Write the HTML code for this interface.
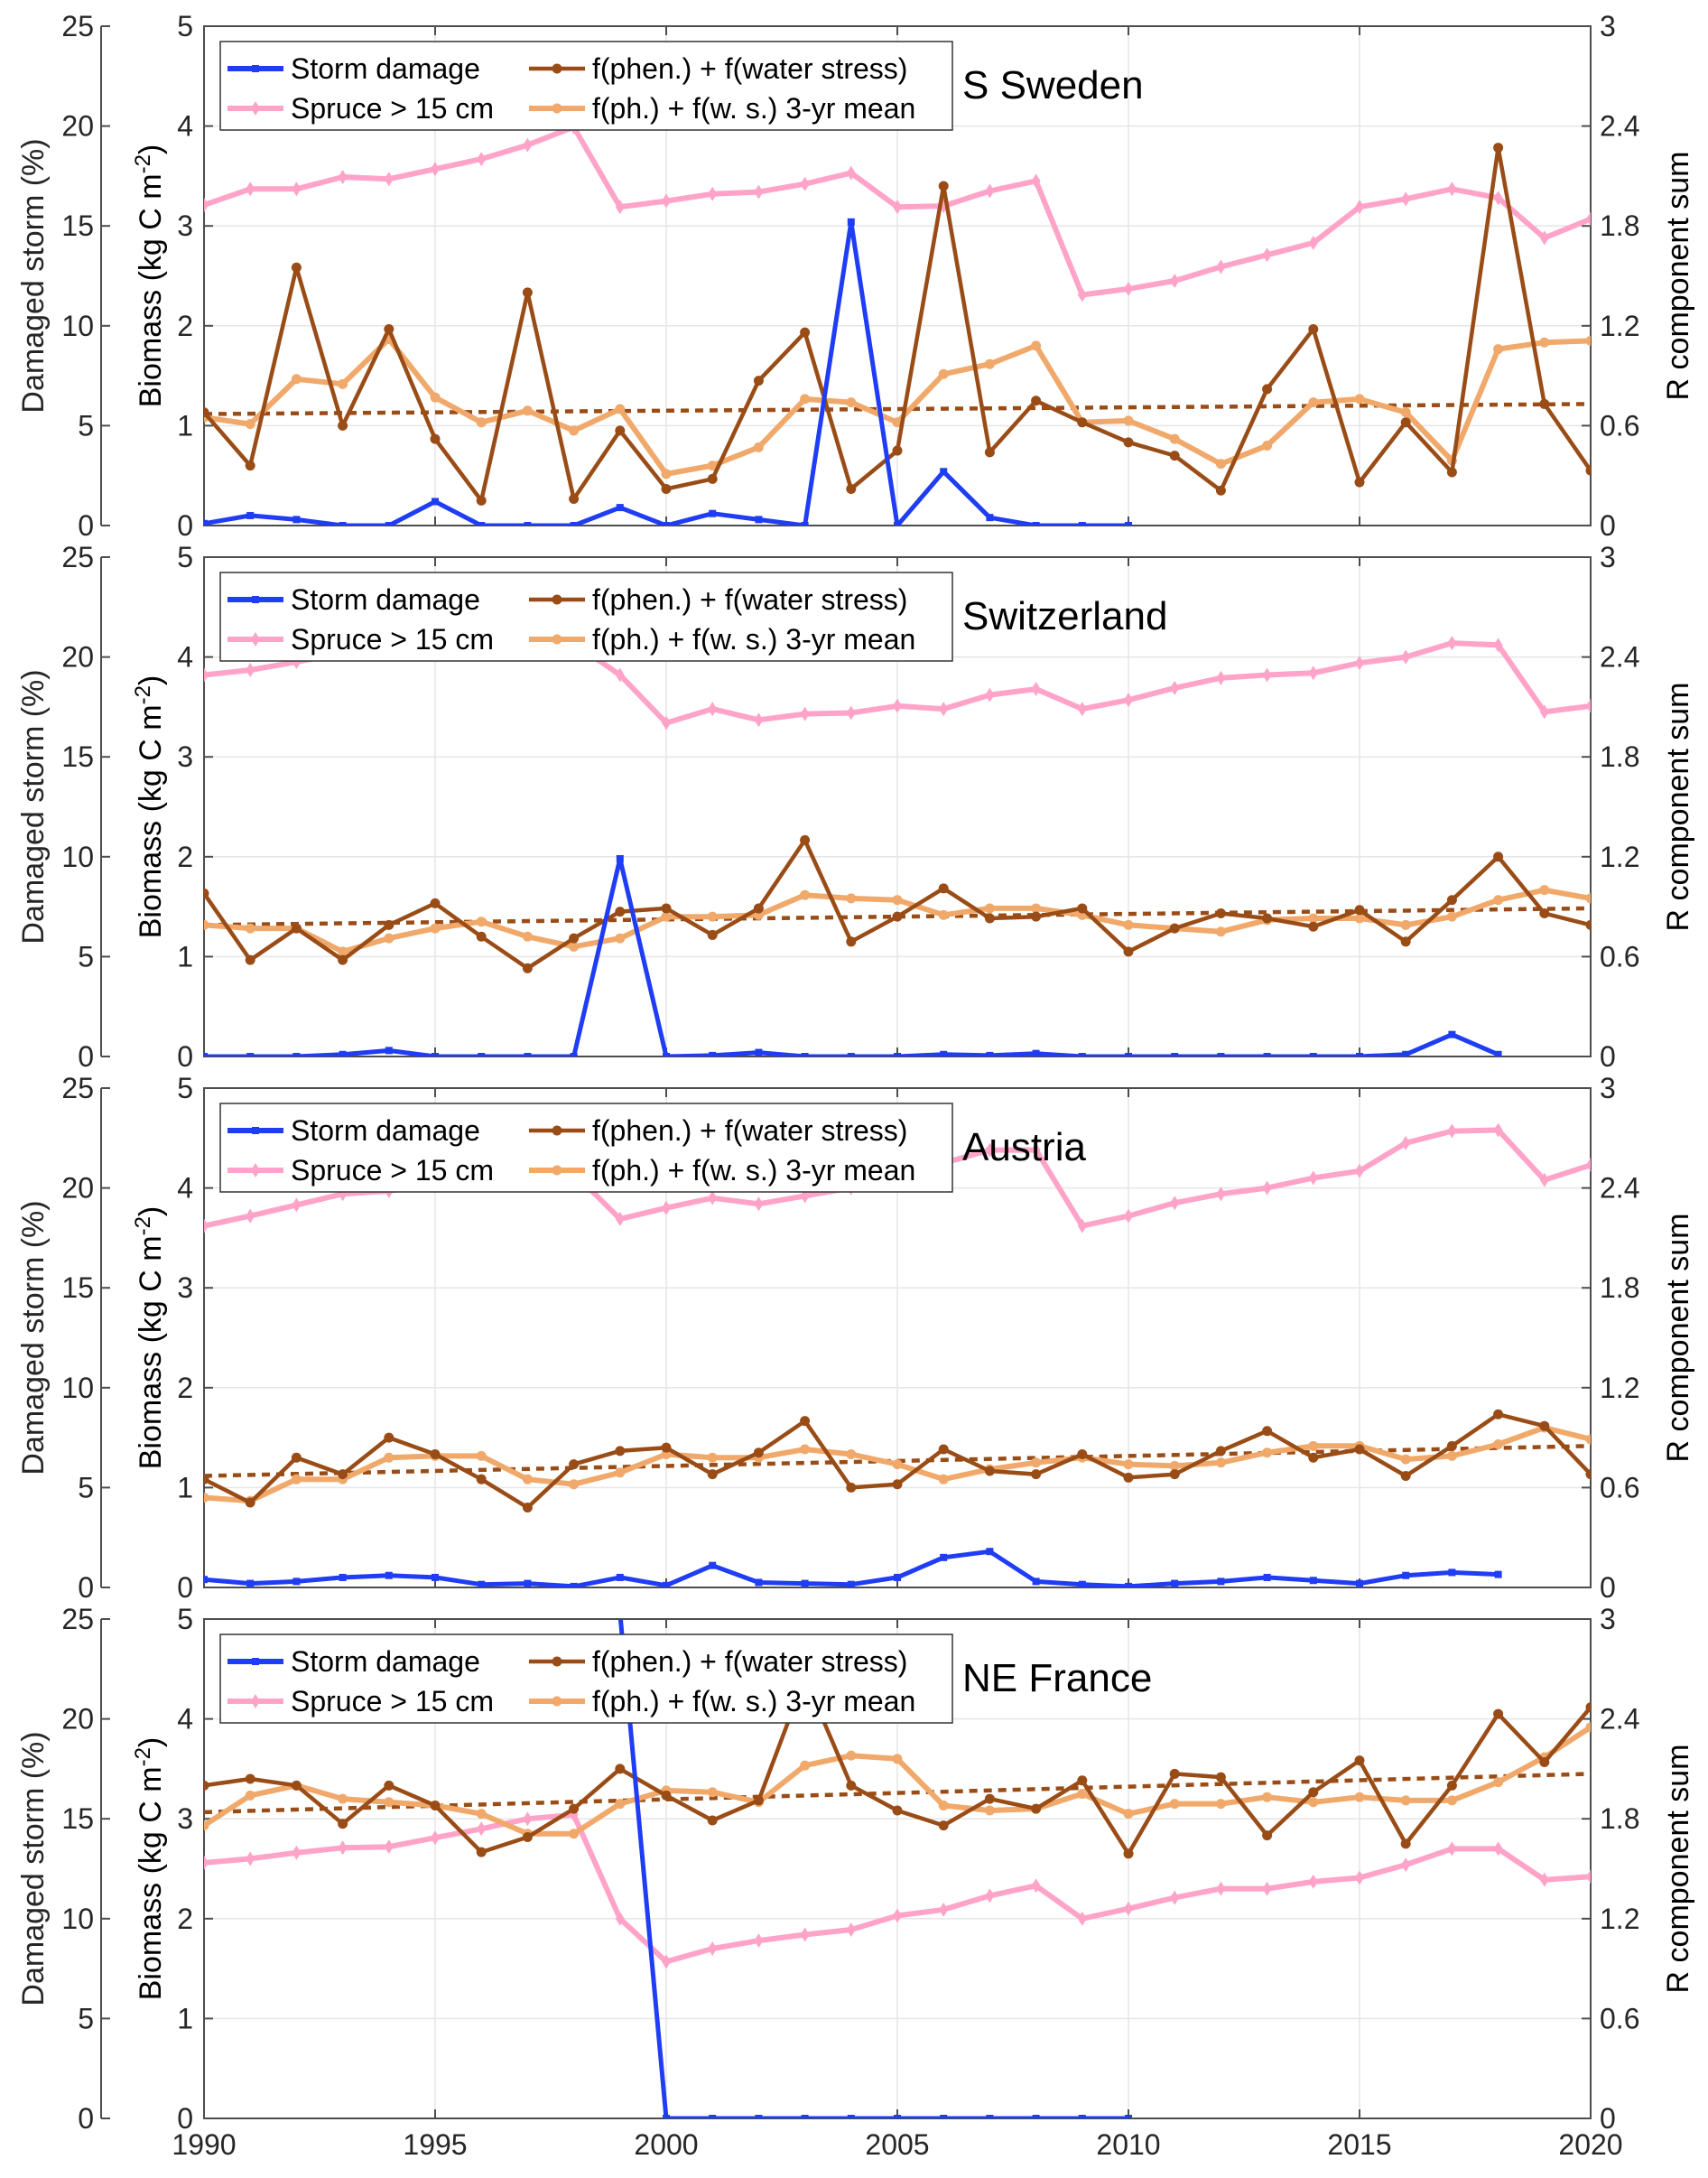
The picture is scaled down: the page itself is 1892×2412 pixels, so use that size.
<!DOCTYPE html>
<html><head><meta charset="utf-8"><style>
html,body{margin:0;padding:0;background:#fff;}
svg{display:block;font-family:"Liberation Sans",Arial,sans-serif;}
</style></head><body>
<svg id="chart" width="1892" height="2412" viewBox="0 0 1892 2412" xmlns="http://www.w3.org/2000/svg"></svg>
<script>
const years = [1990,1991,1992,1993,1994,1995,1996,1997,1998,1999,2000,2001,2002,2003,2004,2005,2006,2007,2008,2009,2010,2011,2012,2013,2014,2015,2016,2017,2018,2019,2020];
const panelTitles = ["S Sweden","Switzerland","Austria","NE France"];
const xTickLabels = [1990,1995,2000,2005,2010,2015,2020];
const stormTicks = [0,5,10,15,20,25];
const biomassTicks = [0,1,2,3,4,5];
const rTickLabels = ["0","0.6","1.2","1.8","2.4","3"];
const rTickValues = [0,0.6,1.2,1.8,2.4,3];

const storm1 = [0.1,0.5,0.3,0,0,1.2,0,0,0,0.9,0,0.6,0.3,0,15.2,0,2.7,0.4,0,0,0];
const spruce1 = [3.21,3.37,3.37,3.49,3.47,3.57,3.67,3.81,3.99,3.19,3.25,3.32,3.34,3.42,3.53,3.19,3.2,3.35,3.45,2.31,2.37,2.45,2.59,2.71,2.83,3.19,3.27,3.37,3.28,2.88,3.07];
const rsum1 = [0.68,0.36,1.55,0.6,1.18,0.52,0.15,1.4,0.16,0.57,0.22,0.28,0.87,1.16,0.22,0.45,2.04,0.44,0.75,0.62,0.5,0.42,0.21,0.82,1.18,0.26,0.62,0.32,2.27,0.73,0.33];
const rmean1 = [0.65,0.61,0.88,0.85,1.12,0.77,0.62,0.69,0.57,0.7,0.31,0.36,0.47,0.76,0.74,0.62,0.91,0.97,1.08,0.62,0.63,0.52,0.37,0.48,0.74,0.76,0.68,0.39,1.06,1.1,1.11];
const trend1 = [0.67,0.73];

const storm2 = [0,0,0,0.1,0.3,0,0,0,0,9.9,0,0.05,0.2,0,0,0,0.1,0.05,0.15,0,0,0,0,0,0,0,0.1,1.1,0.1];
const spruce2 = [3.82,3.87,3.95,4.04,4.1,4.15,4.2,4.25,4.14,3.82,3.34,3.48,3.37,3.43,3.44,3.51,3.48,3.62,3.68,3.48,3.57,3.69,3.79,3.82,3.84,3.94,4.0,4.14,4.12,3.45,3.51];
const rsum2 = [0.98,0.58,0.77,0.58,0.79,0.92,0.72,0.53,0.71,0.87,0.89,0.73,0.89,1.3,0.69,0.84,1.01,0.83,0.84,0.89,0.63,0.77,0.86,0.83,0.78,0.88,0.69,0.94,1.2,0.86,0.79];
const rmean2 = [0.79,0.77,0.77,0.63,0.71,0.77,0.81,0.72,0.66,0.71,0.84,0.84,0.85,0.97,0.95,0.94,0.85,0.89,0.89,0.85,0.79,0.77,0.75,0.82,0.83,0.83,0.79,0.84,0.94,1.0,0.95];
const trend2 = [0.79,0.89];

const storm3 = [0.4,0.2,0.3,0.5,0.6,0.5,0.15,0.2,0.05,0.5,0.1,1.1,0.25,0.2,0.15,0.5,1.5,1.8,0.3,0.15,0.05,0.2,0.3,0.5,0.35,0.2,0.6,0.75,0.65];
const spruce3 = [3.62,3.72,3.83,3.94,3.97,4.03,4.1,4.2,4.15,3.69,3.8,3.9,3.84,3.92,4.0,4.1,4.25,4.38,4.38,3.62,3.72,3.85,3.94,4.0,4.1,4.17,4.45,4.57,4.58,4.08,4.23];
const rsum3 = [0.65,0.51,0.78,0.68,0.9,0.8,0.65,0.48,0.74,0.82,0.84,0.68,0.81,1.0,0.6,0.62,0.83,0.7,0.68,0.8,0.66,0.68,0.82,0.94,0.78,0.83,0.67,0.85,1.04,0.97,0.68];
const rmean3 = [0.54,0.52,0.65,0.65,0.78,0.79,0.79,0.65,0.62,0.69,0.8,0.78,0.78,0.83,0.8,0.74,0.65,0.71,0.75,0.78,0.74,0.73,0.75,0.81,0.85,0.85,0.77,0.79,0.86,0.96,0.89];
const trend3 = [0.67,0.85];

const storm4 = [null,null,null,null,null,null,null,null,null,25.3,0,0,0,0,0,0,0,0,0,0,0];
const spruce4 = [2.56,2.6,2.66,2.71,2.72,2.81,2.9,3.0,3.04,2.0,1.57,1.7,1.78,1.84,1.89,2.03,2.09,2.23,2.33,2.0,2.1,2.21,2.3,2.3,2.37,2.41,2.54,2.7,2.7,2.39,2.42];
const rsum4 = [2.0,2.04,2.0,1.77,2.0,1.88,1.6,1.69,1.86,2.1,1.94,1.79,1.91,2.65,2.0,1.85,1.76,1.92,1.86,2.03,1.59,2.07,2.05,1.7,1.96,2.15,1.65,2.0,2.43,2.14,2.47];
const rmean4 = [1.76,1.94,2.0,1.92,1.9,1.88,1.83,1.71,1.71,1.89,1.97,1.96,1.9,2.12,2.18,2.16,1.88,1.85,1.86,1.95,1.83,1.89,1.89,1.93,1.9,1.93,1.91,1.91,2.02,2.17,2.35];
const trend4 = [1.84,2.07];

const stormSets=[storm1,storm2,storm3,storm4];
const spruceSets=[spruce1,spruce2,spruce3,spruce4];
const rsumSets=[rsum1,rsum2,rsum3,rsum4];
const rmeanSets=[rmean1,rmean2,rmean3,rmean4];
const trendSets=[trend1,trend2,trend3,trend4];

const NS="http://www.w3.org/2000/svg";
const svg=document.getElementById('chart');
const X0=226,X1=1762,PH=553;
const tops=[29,617,1205,1793];
const C={blue:"#1f3df5",brown:"#9a4c16",orange:"#f0a96a",pink:"#ffa3c9"};
function xs(y){return X0+(y-1990)/30*(X1-X0);}
function mk(tag,attrs,parent){const e=document.createElementNS(NS,tag);for(const k in attrs)e.setAttribute(k,attrs[k]);(parent||svg).appendChild(e);return e;}
function txt(s,attrs,parent){const e=mk('text',attrs,parent);e.textContent=s;return e;}

const defs=mk('defs',{});
tops.forEach((t,i)=>{const cp=mk('clipPath',{id:'clip'+i},defs);mk('rect',{x:X0,y:t,width:X1-X0,height:PH},cp);});

function polyline(vals,xf,yf,color,w,parent){
  let segs=[],cur=[];
  vals.forEach((v,i)=>{if(v===null){if(cur.length)segs.push(cur);cur=[];}else cur.push(xf(i).toFixed(1)+','+yf(v).toFixed(1));});
  if(cur.length)segs.push(cur);
  return segs.map(s=>mk('polyline',{points:s.join(' '),fill:'none',stroke:color,'stroke-width':w,'stroke-linejoin':'round'},parent));
}

tops.forEach((top,p)=>{
  const bot=top+PH;
  const g=mk('g',{});
  
  
  const yB=v=>bot-v/5*PH, yS=v=>bot-v/25*PH, yR=v=>bot-v/3*PH;
  xTickLabels.forEach(yr=>{const l=mk('line',{x1:xs(yr),x2:xs(yr),y1:top,y2:bot,stroke:'#e6e6e6','stroke-width':1.5},g);});
  biomassTicks.forEach(v=>{const l=mk('line',{x1:X0,x2:X1,y1:yB(v),y2:yB(v),stroke:'#e6e6e6','stroke-width':1.5},g);});
  const box=mk('rect',{x:X0,y:top,width:X1-X0,height:PH,fill:'none',stroke:'#4d4d4d','stroke-width':2},g);
  
  xTickLabels.forEach(yr=>{mk('line',{x1:xs(yr),x2:xs(yr),y1:bot,y2:bot-10,stroke:'#4d4d4d','stroke-width':2},g);mk('line',{x1:xs(yr),x2:xs(yr),y1:top,y2:top+10,stroke:'#4d4d4d','stroke-width':2},g);});
  const sa=mk('line',{x1:112,x2:112,y1:top,y2:bot,stroke:'#4d4d4d','stroke-width':2},g);
  
  stormTicks.forEach(v=>{mk('line',{x1:112,x2:122,y1:yS(v),y2:yS(v),stroke:'#4d4d4d','stroke-width':2},g);
    const t=txt(String(v),{x:104,y:yS(v)+11,'text-anchor':'end','font-size':32,fill:'#262626'},g);});
  biomassTicks.forEach(v=>{mk('line',{x1:X0,x2:X0+10,y1:yB(v),y2:yB(v),stroke:'#4d4d4d','stroke-width':2},g);
    const t=txt(String(v),{x:214,y:yB(v)+11,'text-anchor':'end','font-size':32,fill:'#262626'},g);});
  rTickValues.forEach((v,i)=>{mk('line',{x1:X1,x2:X1-10,y1:yR(v),y2:yR(v),stroke:'#4d4d4d','stroke-width':2},g);
    const t=txt(rTickLabels[i],{x:X1+10,y:yR(v)+11,'font-size':32,fill:'#262626'},g);});
  const mid=top+PH/2;
  let t=txt('Damaged storm (%)',{x:0,y:0,'text-anchor':'middle','font-size':34,fill:'#262626',transform:`translate(48,${mid}) rotate(-90)`},g);
  
  const bt=mk('text',{x:0,y:0,'text-anchor':'middle','font-size':34,fill:'#000',transform:`translate(178,${mid}) rotate(-90)`},g);
  
  bt.appendChild(document.createTextNode('Biomass (kg C m'));
  const sup=mk('tspan',{dy:-12,'font-size':24},bt);sup.textContent='-2';
  const cl=mk('tspan',{dy:12},bt);cl.textContent=')';
  t=txt('R component sum',{x:0,y:0,'text-anchor':'middle','font-size':34,fill:'#000',transform:`translate(1870,${mid}) rotate(-90)`},g);
  
  if(p===3){xTickLabels.forEach(yr=>{const l=txt(String(yr),{x:xs(yr),y:bot+40,'text-anchor':'middle','font-size':32,fill:'#262626'},g);});}

  const dg=mk('g',{'clip-path':`url(#clip${p})`},g);
  
  const xi=i=>xs(years[i]);
  const sp=spruceSets[p];
  polyline(sp,xi,yB,C.pink,6,dg).forEach(e=>{});
  sp.forEach((v,i)=>{const d=mk('path',{d:`M${xi(i)},${yB(v)-8}l5,8l-5,8l-5,-8z`,fill:C.pink},dg);});
  const tr=trendSets[p];
  const tl=mk('line',{x1:X0,x2:X1,y1:yR(tr[0]),y2:yR(tr[1]),stroke:C.brown,'stroke-width':4.5,'stroke-dasharray':'9 7'},dg);
  
  const rm=rmeanSets[p];
  polyline(rm,xi,yR,C.orange,6,dg).forEach(e=>{});
  rm.forEach((v,i)=>{const c=mk('circle',{cx:xi(i),cy:yR(v),r:5.5,fill:C.orange},dg);});
  const rs=rsumSets[p];
  polyline(rs,xi,yR,C.brown,4.5,dg).forEach(e=>{});
  rs.forEach((v,i)=>{const c=mk('circle',{cx:xi(i),cy:yR(v),r:5.5,fill:C.brown},dg);});
  const st=stormSets[p];
  polyline(st,xi,yS,C.blue,5,dg).forEach(e=>{});
  st.forEach((v,i)=>{if(v===null)return;const r=mk('rect',{x:xi(i)-4,y:yS(v)-4,width:8,height:8,fill:C.blue},dg);});

  const lg=mk('g',{},g);
  mk('rect',{x:244,y:top+17,width:811,height:98,fill:'#fff',stroke:'#333','stroke-width':1.5},lg);
  const r1=top+47,r2=top+91;
  const items=[[252,r1,C.blue,'Storm damage','sq'],[586,r1,C.brown,'f(phen.) + f(water stress)','ci'],[252,r2,C.pink,'Spruce > 15 cm','di'],[586,r2,C.orange,'f(ph.) + f(w. s.) 3-yr mean','ci']];
  items.forEach(([lx,ly,col,label,m])=>{
    const e=mk('g',{},lg);
    mk('line',{x1:lx,x2:lx+62,y1:ly,y2:ly,stroke:col,'stroke-width':m==='ci'&&col===C.brown?4.5:6},e);
    const cx=lx+31;
    if(m==='sq')mk('rect',{x:cx-4,y:ly-4,width:8,height:8,fill:col},e);
    else if(m==='ci')mk('circle',{cx:cx,cy:ly,r:5.5,fill:col},e);
    else mk('path',{d:`M${cx},${ly-8}l5,8l-5,8l-5,-8z`,fill:col},e);
    txt(label,{x:lx+70,y:ly+11,'font-size':32,fill:'#000'},e);
  });
  t=txt(panelTitles[p],{x:1066,y:top+80,'font-size':44,fill:'#000'},g);
  
});
</script>
</body></html>
